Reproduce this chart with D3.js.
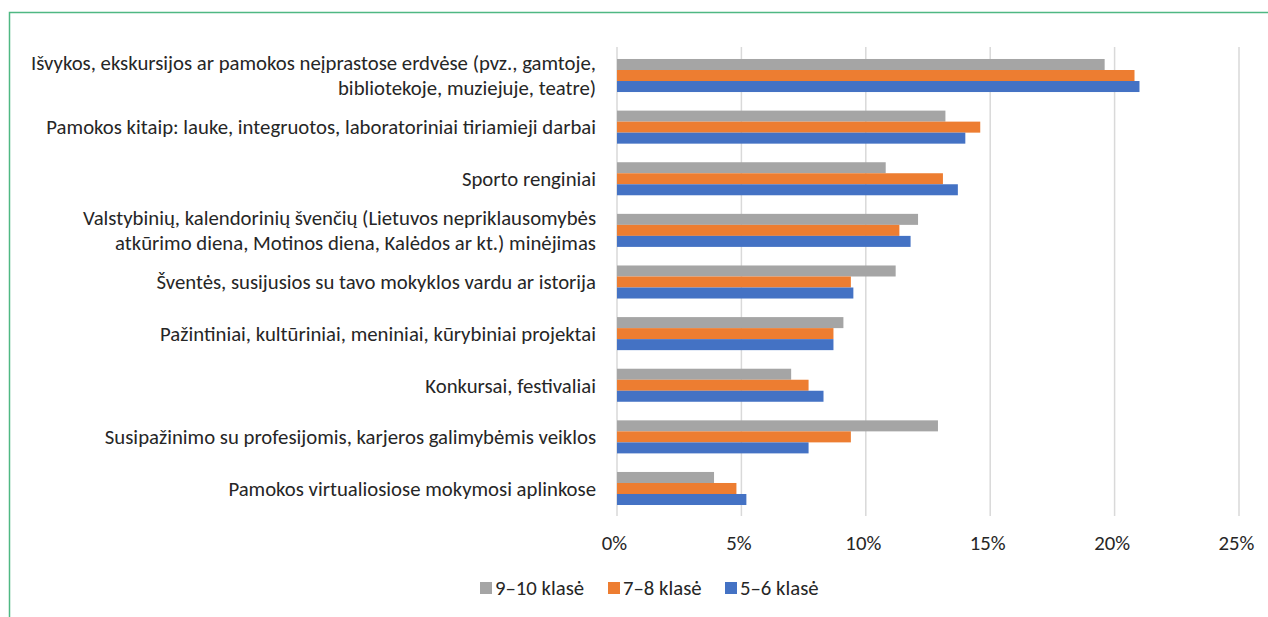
<!DOCTYPE html>
<html>
<head>
<meta charset="utf-8">
<script src="https://cdn.jsdelivr.net/npm/d3@7"></script>
<style>
  html, body { margin: 0; padding: 0; background: #ffffff; }
  svg { display: block; }
  text { font-family: Carlito, Lato, "Liberation Sans", sans-serif; fill: #262626; }
</style>
</head>
<body>
<svg id="chart" width="1268" height="617"></svg>
<script>
// ---- data ----
const categories = [
  ["Išvykos, ekskursijos ar pamokos neįprastose erdvėse (pvz., gamtoje,", "bibliotekoje, muziejuje, teatre)"],
  ["Pamokos kitaip: lauke, integruotos, laboratoriniai tiriamieji darbai"],
  ["Sporto renginiai"],
  ["Valstybinių, kalendorinių švenčių (Lietuvos nepriklausomybės", "atkūrimo diena, Motinos diena, Kalėdos ar kt.) minėjimas"],
  ["Šventės, susijusios su tavo mokyklos vardu ar istorija"],
  ["Pažintiniai, kultūriniai, meniniai, kūrybiniai projektai"],
  ["Konkursai, festivaliai"],
  ["Susipažinimo su profesijomis, karjeros galimybėmis veiklos"],
  ["Pamokos virtualiosiose mokymosi aplinkose"]
];
const seriesNames = ["9–10 klasė", "7–8 klasė", "5–6 klasė"];
const grade910 = [19.6, 13.2, 10.8, 12.1, 11.2, 9.1, 7.0, 12.9, 3.9];
const grade78  = [20.8, 14.6, 13.1, 11.35, 9.4, 8.7, 7.7, 9.4, 4.8];
const grade56  = [21.0, 14.0, 13.7, 11.8, 9.5, 8.7, 8.3, 7.7, 5.2];
const tickValues = [0, 5, 10, 15, 20, 25];
const colors = ["#a5a5a5", "#ed7d31", "#4472c4"];

const seriesValues = [grade910, grade78, grade56];
const svg = d3.select("#chart");

// font size fitted so the reference line width (~550px) matches
const probe = svg.append("text").attr("font-size", 16).text(categories[1][0]);
const w16 = probe.node().getComputedTextLength();
probe.remove();
const fs = Math.max(14, Math.min(22, 16 * 550 / w16));

// frame
svg.append("path")
  .attr("d", "M9.5,617 L9.5,12.5 L1268,12.5")
  .attr("fill", "none")
  .attr("stroke", "#4fb883")
  .attr("stroke-width", 1.5);

const x = d3.scaleLinear().domain([0, 25]).range([617, 1239]);
const idx = categories.map((d, i) => i);
const y = d3.scaleBand().domain(idx).range([49.7, 514.3]).paddingInner(0.36).paddingOuter(0.18);
const ySub = d3.scaleBand().domain([0, 1, 2]).range([0, y.bandwidth()]);

// grid
svg.append("g").selectAll("line").data(tickValues).join("line")
  .attr("x1", d => x(d)).attr("x2", d => x(d))
  .attr("y1", 47).attr("y2", 516)
  .attr("stroke", "#d9d9d9").attr("stroke-width", 1.5);

// bars
const groups = svg.append("g").selectAll("g").data(idx).join("g")
  .attr("transform", i => `translate(0,${y(i)})`);
groups.selectAll("rect")
  .data(i => seriesValues.map((s, k) => ({ k, v: s[i] })))
  .join("rect")
  .attr("x", x(0))
  .attr("y", d => ySub(d.k))
  .attr("width", d => x(d.v) - x(0))
  .attr("height", ySub.bandwidth())
  .attr("fill", d => colors[d.k]);

// x axis labels
const xAxis = d3.axisBottom(x).tickValues(tickValues).tickFormat(d => d + "%").tickSize(0).tickPadding(0);
const gx = svg.append("g").attr("transform", "translate(-3,543)").call(xAxis);
gx.select(".domain").remove();
gx.selectAll("text").attr("font-size", fs).attr("dy", "0.35em")
  .style("font-family", "Carlito, Lato, 'Liberation Sans', sans-serif").attr("fill", "#262626");

// category labels
const lab = svg.append("g");
categories.forEach((lines, i) => {
  const cy = y(i) + y.bandwidth() / 2;
  const lh = 25;
  const y0 = cy - (lines.length - 1) * lh / 2;
  lines.forEach((t, j) => {
    lab.append("text")
      .attr("x", 596)
      .attr("y", y0 + j * lh)
      .attr("dy", "0.35em")
      .attr("text-anchor", "end")
      .attr("font-size", fs)
      .text(t);
  });
});

// legend
const legendX = [480, 608, 725];
const lg = svg.append("g");
seriesNames.forEach((n, k) => {
  lg.append("rect").attr("x", legendX[k]).attr("y", 582).attr("width", 12).attr("height", 12).attr("fill", colors[k]);
  lg.append("text").attr("x", legendX[k] + 15).attr("y", 588).attr("dy", "0.35em")
    .attr("font-size", fs).text(n);
});
</script>
</body>
</html>
